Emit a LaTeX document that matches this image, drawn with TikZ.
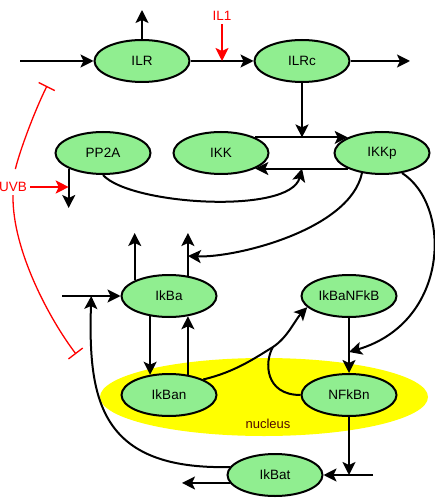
\documentclass[tikz,border=0pt]{standalone}
\usepackage{fontspec}
\setmainfont{Liberation Sans}
\usepackage{tikz}
\usetikzlibrary{arrows.meta, shapes.geometric, calc}
\definecolor{lightgreen}{RGB}{144,238,144}
\definecolor{nucleusyellow}{RGB}{255,255,0}
\definecolor{nucleustext}{RGB}{80,10,0}

\begin{document}
\begin{tikzpicture}[x=1pt, y=-1pt, >={Stealth[length=13pt,width=13pt,inset=3pt]},
    species/.style={draw, line width=2pt, fill=lightgreen, ellipse, minimum width=95pt, minimum height=42pt, inner sep=0pt, font=\fontsize{13.5}{15}\selectfont},
    link/.style={->, line width=2pt},
    signal/.style={->, line width=2pt, red},
    inhibit/.style={-{Bar[width=18pt]}, line width=1.3pt, red}]

        \useasboundingbox (0,0) rectangle (434,502);

        % nucleus
        \node[ellipse, fill=nucleusyellow, minimum width=328pt, minimum height=78pt] (nucleus) at (264,397) {};
        \node[text=nucleustext, font=\fontsize{13}{15}\selectfont] (nucleuslabel) at (268,424) {nucleus};

        \node[species] (ILR) at (142,61) {ILR};
        \node[species] (ILRc) at (302,61) {ILRc};
        \node[species] (PP2A) at (103,153) {PP2A};
        \node[species] (IKK) at (221,153) {IKK};
        \node[species] (IKKp) at (382,153) {IKKp};
        \node[species] (IkBa) at (169,296) {IkBa};
        \node[species] (IkBaNFkB) at (349,296) {IkBaNFkB};
        \node[species] (IkBan) at (169,395) {IkBan};
        \node[species] (NFkBn) at (349,395) {NFkBn};
        \node[species] (IkBat) at (275,475) {IkBat};

        \node[text=red, font=\fontsize{13.5}{15}\selectfont] (IL1) at (222,16) {IL1};
        \node[text=red, font=\fontsize{13.5}{15}\selectfont] (UVB) at (13,187) {UVB};

        \coordinate (inILR) at (20,61);
        \coordinate (upILR) at (142,10);
        \coordinate (outILRc) at (410,61);
        \coordinate (il1Hit) at ($(ILR.east)!0.5!(ILRc.west)$);
        \coordinate (ilrcHit) at (ILRc.south |- IKK.north east);
        \coordinate (ikkHit) at (ILRc.south |- IKK.south east);
        \coordinate (pp2aHit) at (PP2A.south west |- 0,187);
        \coordinate (pp2aOut) at (PP2A.south west |- 0,208);
        \coordinate (upA) at (IkBa.north west |- 0,233);
        \coordinate (upB) at (IkBa.47 |- 0,233);
        \coordinate (ikbaHit) at (IkBa.47 |- 0,256);
        \coordinate (inIkBa) at (62,296);
        \coordinate (ikbaInHit) at ($(inIkBa)!0.5!(IkBa.west)$);
        \coordinate (nfkbHit) at (NFkBn.north |- 0,352);
        \coordinate (complex) at (273,347);
        \coordinate (nfkbOut) at (NFkBn.south |- IkBat.east);
        \coordinate (inIkBat) at (IkBat.east -| 373,0);
        \coordinate (outIkBat) at (IkBat.190 -| 182,0);
        \coordinate (blockILR) at (47,86);
        \coordinate (blockIkBa) at (76,354);

        \foreach \from/\to in
        {inILR/ILR.west, ILR.north/upILR, ILR.east/ILRc.west, ILRc.east/outILRc,
         ILRc.south/ilrcHit, IKK.north east/IKKp.north west, IKKp.south west/IKK.south east,
         PP2A.south west/pp2aOut, IkBa.north west/upA, IkBa.47/upB, inIkBa/IkBa.west,
         IkBa.227/IkBan.133, IkBan.47/IkBa.313, IkBaNFkB.south/NFkBn.north,
         NFkBn.south/nfkbOut, inIkBat/IkBat.east, IkBat.190/outIkBat} \draw[link] (\from)--(\to);

        \draw[link] (PP2A.south) .. controls (130,205) and (290,215) .. (ikkHit);
        \draw[link] (IKKp.225) .. controls (350,230) and (235,258) .. (ikbaHit);
        \draw[link] (IKKp.315) .. controls (452,205) and (450,322) .. (nfkbHit);
        \draw[link] (IkBan.north east) .. controls (235,372) and (255,358) .. (complex)
            .. controls (288,337) and (295,320) .. (IkBaNFkB.195);
        \draw[line width=2pt] (NFkBn.west) .. controls (265,395) and (264,362) .. (complex);
        \draw[link] (IkBat.170) .. controls (100,470) and (88,400) .. (ikbaInHit);

        \draw[signal] (IL1.south) -- (il1Hit);
        \draw[signal] (UVB.east) -- (pp2aHit);
        \draw[inhibit, shorten <=10pt] (UVB.north) .. controls (20,150) and (35,110) .. (blockILR);
        \draw[inhibit] (UVB.south) .. controls (12,250) and (50,320) .. (blockIkBa);
        \end{tikzpicture}
\end{document}
